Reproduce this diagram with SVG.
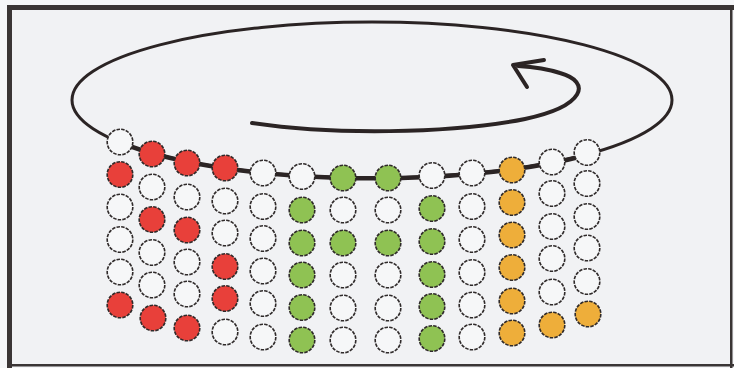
<svg xmlns="http://www.w3.org/2000/svg" width="734" height="368" viewBox="0 0 734 368">
<style>
.bg{fill:#f5f6f8}
.inner{fill:#f1f2f4}
.fr{fill:#3a3535}
.line{fill:none;stroke:#2b2424;stroke-width:3;stroke-linecap:round;stroke-linejoin:round}
.chain{fill:none;stroke:#2b2424;stroke-width:4.5}
.arrow{fill:none;stroke:#2b2424;stroke-width:4;stroke-linecap:round;stroke-linejoin:round}
circle{stroke:#2f2a2a;stroke-width:1.6;stroke-dasharray:3.5 1.2}
.w{fill:#f6f7f8}
.r{fill:#e8403a}
.g{fill:#8fc253}
.o{fill:#eeae3a}
</style>
<rect class="bg" x="0" y="0" width="734" height="368"/>
<rect class="inner" x="12" y="10" width="719" height="354"/>
<rect class="fr" x="7" y="5" width="727" height="5"/>
<rect class="fr" x="7" y="5" width="5" height="363"/>
<rect class="fr" x="730" y="5" width="2.5" height="363"/>
<rect class="fr" x="7" y="364" width="727" height="2.5"/>
<g id="connectors">
<ellipse class="line" cx="372" cy="100" rx="300" ry="78"/>
<path class="chain" d="M120,142.3 A300,78 0 0 0 587,155"/>
<path class="arrow" d="M252,123 C330,135 450,134 525,119 C585,106 592,82 560,73 C548,69 535,67 518,66"/>
<polyline class="arrow" points="544,60 513,65 527,87"/>
</g>
<g id="col1">
<circle class="w" cx="120" cy="142" r="12.8"/>
<circle class="r" cx="120" cy="174.5" r="12.8"/>
<circle class="w" cx="120" cy="207" r="12.8"/>
<circle class="w" cx="120" cy="239.5" r="12.8"/>
<circle class="w" cx="120" cy="272" r="12.8"/>
<circle class="r" cx="120" cy="305" r="12.8"/>
</g>
<g id="col2">
<circle class="r" cx="152" cy="154" r="12.8"/>
<circle class="w" cx="152" cy="187" r="12.8"/>
<circle class="r" cx="152" cy="219.5" r="12.8"/>
<circle class="w" cx="152" cy="252.5" r="12.8"/>
<circle class="w" cx="152" cy="285" r="12.8"/>
<circle class="r" cx="153" cy="318" r="12.8"/>
</g>
<g id="col3">
<circle class="r" cx="187" cy="163" r="12.8"/>
<circle class="w" cx="187" cy="197" r="12.8"/>
<circle class="r" cx="187" cy="230" r="12.8"/>
<circle class="w" cx="187" cy="262" r="12.8"/>
<circle class="w" cx="187" cy="294" r="12.8"/>
<circle class="r" cx="187" cy="328" r="12.8"/>
</g>
<g id="col4">
<circle class="r" cx="225" cy="168" r="12.8"/>
<circle class="w" cx="225" cy="201" r="12.8"/>
<circle class="w" cx="225" cy="233" r="12.8"/>
<circle class="r" cx="225" cy="266.5" r="12.8"/>
<circle class="r" cx="225" cy="298.5" r="12.8"/>
<circle class="w" cx="225" cy="332" r="12.8"/>
</g>
<g id="col5">
<circle class="w" cx="263" cy="173" r="12.8"/>
<circle class="w" cx="263" cy="206.5" r="12.8"/>
<circle class="w" cx="263" cy="238.5" r="12.8"/>
<circle class="w" cx="263" cy="271" r="12.8"/>
<circle class="w" cx="263" cy="303.5" r="12.8"/>
<circle class="w" cx="263" cy="337" r="12.8"/>
</g>
<g id="col6">
<circle class="w" cx="302" cy="176.5" r="12.8"/>
<circle class="g" cx="302" cy="210" r="12.8"/>
<circle class="g" cx="302" cy="243" r="12.8"/>
<circle class="g" cx="302" cy="275" r="12.8"/>
<circle class="g" cx="302" cy="307.5" r="12.8"/>
<circle class="g" cx="302" cy="340" r="12.8"/>
</g>
<g id="col7">
<circle class="g" cx="343" cy="178" r="12.8"/>
<circle class="w" cx="343" cy="210" r="12.8"/>
<circle class="g" cx="343" cy="243" r="12.8"/>
<circle class="w" cx="343" cy="275" r="12.8"/>
<circle class="w" cx="343" cy="308" r="12.8"/>
<circle class="w" cx="343" cy="340" r="12.8"/>
</g>
<g id="col8">
<circle class="g" cx="388" cy="178" r="12.8"/>
<circle class="w" cx="388" cy="210" r="12.8"/>
<circle class="g" cx="388" cy="243" r="12.8"/>
<circle class="w" cx="388" cy="275" r="12.8"/>
<circle class="w" cx="388" cy="308" r="12.8"/>
<circle class="w" cx="388" cy="340" r="12.8"/>
</g>
<g id="col9">
<circle class="w" cx="432" cy="175.5" r="12.8"/>
<circle class="g" cx="432" cy="208.5" r="12.8"/>
<circle class="g" cx="432" cy="241.5" r="12.8"/>
<circle class="g" cx="432" cy="274.5" r="12.8"/>
<circle class="g" cx="432" cy="306.5" r="12.8"/>
<circle class="g" cx="432" cy="338.5" r="12.8"/>
</g>
<g id="col10">
<circle class="w" cx="472" cy="173" r="12.8"/>
<circle class="w" cx="472" cy="206.5" r="12.8"/>
<circle class="w" cx="472" cy="239.5" r="12.8"/>
<circle class="w" cx="472" cy="272.5" r="12.8"/>
<circle class="w" cx="472" cy="305" r="12.8"/>
<circle class="w" cx="472" cy="337" r="12.8"/>
</g>
<g id="col11">
<circle class="o" cx="512" cy="170" r="12.8"/>
<circle class="o" cx="512" cy="202.5" r="12.8"/>
<circle class="o" cx="512" cy="235" r="12.8"/>
<circle class="o" cx="512" cy="267.5" r="12.8"/>
<circle class="o" cx="512" cy="301" r="12.8"/>
<circle class="o" cx="512" cy="333" r="12.8"/>
</g>
<g id="col12">
<circle class="w" cx="552" cy="162" r="12.8"/>
<circle class="w" cx="552" cy="193.5" r="12.8"/>
<circle class="w" cx="552" cy="226.5" r="12.8"/>
<circle class="w" cx="552" cy="258.5" r="12.8"/>
<circle class="w" cx="552" cy="292" r="12.8"/>
<circle class="o" cx="552" cy="325" r="12.8"/>
</g>
<g id="col13">
<circle class="w" cx="587" cy="152.5" r="12.8"/>
<circle class="w" cx="587" cy="183.5" r="12.8"/>
<circle class="w" cx="587" cy="216.5" r="12.8"/>
<circle class="w" cx="587" cy="248" r="12.8"/>
<circle class="w" cx="587" cy="281.5" r="12.8"/>
<circle class="o" cx="588" cy="314" r="12.8"/>
</g>
</svg>
